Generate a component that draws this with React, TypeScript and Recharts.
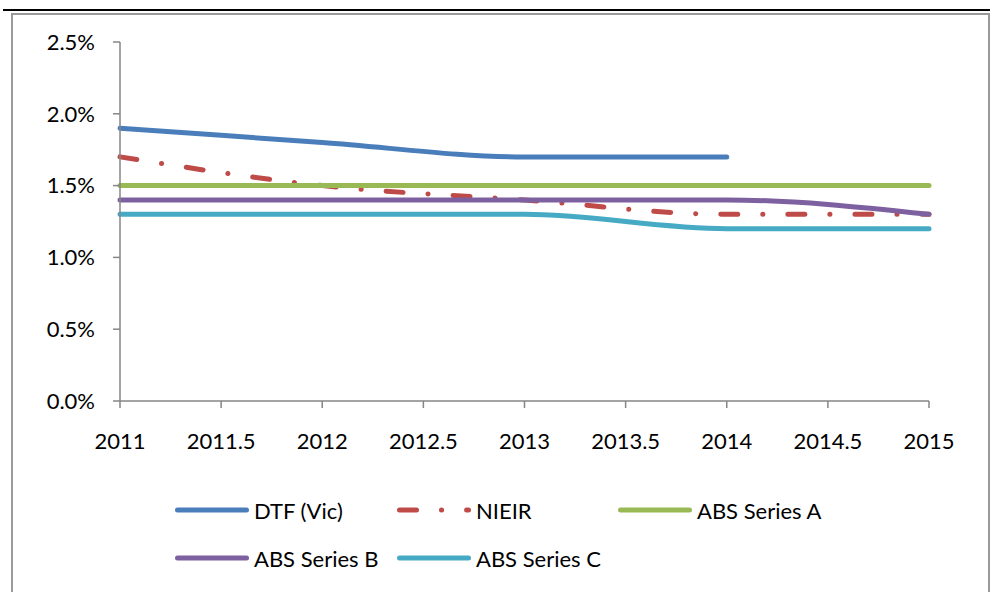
import React from 'react';
import { LineChart, Line, XAxis, YAxis } from 'recharts';

const years = [2011, 2012, 2013, 2014, 2015];
const dtfVic = [1.9, 1.8, 1.7, 1.7, null];
const nieir = [1.7, 1.5, 1.4, 1.3, 1.3];
const absSeriesA = [1.5, 1.5, 1.5, 1.5, 1.5];
const absSeriesB = [1.4, 1.4, 1.4, 1.4, 1.3];
const absSeriesC = [1.3, 1.3, 1.3, 1.2, 1.2];

const xTicks = [2011, 2011.5, 2012, 2012.5, 2013, 2013.5, 2014, 2014.5, 2015];
const yTicks = [0, 0.5, 1, 1.5, 2, 2.5];

const series = [
  { key: 'dtf', name: 'DTF (Vic)', color: '#4A7EBB', dash: undefined },
  { key: 'nieir', name: 'NIEIR', color: '#BE4B48', dash: '17 25 0.1 25' },
  { key: 'absA', name: 'ABS Series A', color: '#98B954', dash: undefined },
  { key: 'absB', name: 'ABS Series B', color: '#7D60A0', dash: undefined },
  { key: 'absC', name: 'ABS Series C', color: '#46AAC5', dash: undefined },
];

const data = years.map((year, i) => ({
  year,
  dtf: dtfVic[i],
  nieir: nieir[i],
  absA: absSeriesA[i],
  absB: absSeriesB[i],
  absC: absSeriesC[i],
}));

const FONT = 'Lato, sans-serif';
const AXIS = '#868686';

// legend slots: [left, centre y] of each item
const legendPos: [number, number][] = [
  [175, 510],
  [397, 510],
  [618, 510],
  [175, 558],
  [397, 558],
];

const LegendItem = ({ s, x, y }: { s: typeof series[number]; x: number; y: number }) => (
  <div style={{ position: 'absolute', left: x, top: y - 14, height: 28, display: 'flex', alignItems: 'center' }}>
    <svg width={74} height={10} style={{ display: 'block' }}>
      <line x1={2.5} y1={5} x2={71.5} y2={5} stroke={s.color} strokeWidth={5} strokeLinecap="round"
        strokeDasharray={s.dash} />
    </svg>
    <span style={{ marginLeft: 5, fontFamily: FONT, fontSize: 22, color: '#000', whiteSpace: 'nowrap' }}>{s.name}</span>
  </div>
);

export default function App() {
  return (
    <div style={{ position: 'absolute', left: 0, top: 0, width: 994, height: 592, background: '#fff', overflow: 'hidden' }}>
      <div style={{ position: 'absolute', left: 3, top: 8.5, width: 987, height: 2, background: '#000' }} />
      <div style={{ position: 'absolute', left: 11, top: 13, width: 975, height: 600, borderLeft: '2px solid #9a9a9a', borderRight: '2px solid #9a9a9a', borderTop: '2px solid #9a9a9a' }} />

      <div style={{ position: 'absolute', left: 0, top: 0 }}>
        <LineChart width={994} height={592} data={data} margin={{ top: 42, right: 65, left: 0, bottom: 131 }}>
          <XAxis
            dataKey="year"
            type="number"
            domain={[2011, 2015]}
            ticks={xTicks}
            height={60}
            interval={0}
            stroke={AXIS}
            strokeWidth={1.5}
            tickSize={7}
            tickMargin={25}
            tick={{ fill: '#000', fontSize: 22, fontFamily: FONT }}
          />
          <YAxis
            type="number"
            domain={[0, 2.5]}
            ticks={yTicks}
            width={120}
            interval={0}
            stroke={AXIS}
            strokeWidth={1.5}
            tickSize={7}
            tickMargin={18}
            tickFormatter={(v: number) => `${v.toFixed(1)}%`}
            tick={{ fill: '#000', fontSize: 22, fontFamily: FONT }}
          />
          {series.map((s) => (
            <Line
              key={s.key}
              dataKey={s.key}
              name={s.name}
              type="monotone"
              stroke={s.color}
              strokeWidth={5}
              strokeLinecap="round"
              strokeDasharray={s.dash}
              dot={false}
              activeDot={false}
              isAnimationActive={false}
            />
          ))}
        </LineChart>
      </div>

      {series.map((s, i) => (
        <LegendItem key={s.key} s={s} x={legendPos[i][0]} y={legendPos[i][1]} />
      ))}
    </div>
  );
}
